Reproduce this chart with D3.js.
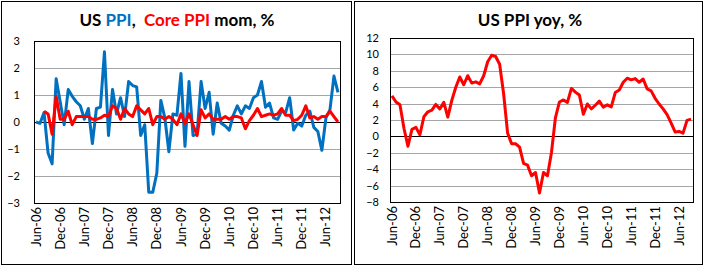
<!DOCTYPE html>
<html>
<head>
<meta charset="utf-8">
<script src="https://cdn.jsdelivr.net/npm/d3@7"></script>
<style>
  body { margin: 0; background: #fff; }
  text { font-family: Lato, "Open Sans", sans-serif; }
</style>
</head>
<body>
<svg id="chart" width="709" height="268"></svg>
<script>
// monthly categories, Jun-06 .. Sep-12
var months = d3.timeMonth.range(new Date(2006, 5, 1), new Date(2012, 9, 1));

// US PPI m/m, %
var ppiMom = [0.0, -0.05, 0.35, -1.15, -1.55, 1.6, 0.75, -0.1, 1.2, 0.95,
  0.75, 0.6, 0.1, 0.5, -0.8, 0.5, 0.55, 2.6, -0.5, 1.2,
  0.3, 0.9, 0.2, 1.5, 1.35, 1.3, -0.5, -0.1, -2.6, -2.6,
  -1.9, 0.8, 0.15, -1.1, 0.3, 0.25, 1.8, -0.9, 1.5, -0.5,
  -0.45, 1.5, 0.5, 1.1, -0.45, 0.7, -0.05, -0.15, -0.3, 0.25,
  0.6, 0.3, 0.6, 0.5, 0.9, 1.0, 1.5, 0.55, 0.7, 0.15,
  0.1, 0.4, 0.35, 0.9, -0.3, -0.05, -0.15, 0.25, 0.4, -0.2,
  -0.35, -1.05, 0.15, 0.45, 1.7, 1.1];

// US core PPI m/m, % (starts Aug-06)
var coreMom = [null, null, 0.4, 0.3, -0.45, 0.95, 0.1, 0.1, 0.4, -0.1,
  0.2, 0.2, 0.2, 0.2, 0.1, 0.1, 0.15, 0.25, 0.2, 0.6,
  0.5, 0.1, 0.5, 0.3, 0.2, 0.6, 0.45, 0.3, 0.5, -0.1,
  0.2, 0.2, 0.1, 0.2, 0.1, -0.1, 0.3, -0.05, 0.3, -0.1,
  -0.5, 0.45, 0.15, 0.3, 0.1, 0.1, 0.1, 0.2, 0.1, 0.2,
  0.2, 0.15, -0.25, 0.05, 0.25, 0.5, 0.2, 0.25, 0.3, 0.25,
  0.3, 0.5, 0.25, 0.25, 0.05, 0.1, 0.25, 0.6, 0.15, 0.2,
  0.1, 0.2, 0.2, 0.4, 0.2, 0.0];

// US PPI y/y, %
var ppiYoy = [4.95, 4.2, 3.85, 1.0, -1.2, 0.85, 1.1, 0.2, 2.4, 3.0,
  3.2, 3.9, 3.35, 4.15, 2.35, 4.4, 6.0, 7.25, 6.3, 7.4,
  6.5, 6.65, 6.4, 7.4, 9.1, 9.9, 9.75, 8.8, 5.2, 0.4,
  -0.9, -0.9, -1.3, -3.3, -3.5, -4.8, -4.4, -6.9, -4.4, -4.8,
  -1.95, 2.3, 4.2, 4.45, 4.15, 5.85, 5.4, 5.05, 2.7, 3.95,
  3.35, 3.8, 4.3, 3.55, 3.85, 3.6, 5.35, 5.65, 6.6, 7.1,
  6.9, 7.05, 6.6, 7.0, 5.8, 5.55, 4.65, 3.95, 3.35, 2.65,
  1.65, 0.55, 0.6, 0.4, 1.95, 2.1];

var momTicks = [-3, -2, -1, 0, 1, 2, 3];
var yoyTicks = [-8, -6, -4, -2, 0, 2, 4, 6, 8, 10, 12];

var blue = "#0070C0", red = "#FF0000";
var svg = d3.select("#chart");
var fmt = d3.timeFormat("%b-%y");
var labelMonths = months.filter(function(d, i) { return i % 6 === 0; });

function drawPanel(p) {
  var g = svg.append("g");

  g.append("rect")
    .attr("x", p.box[0] + 0.5).attr("y", p.box[1] + 0.5)
    .attr("width", p.box[2]).attr("height", p.box[3])
    .attr("fill", "#fff").attr("stroke", "#000");

  var x = d3.scaleBand().domain(months).range([p.left, p.right]);
  var y = d3.scaleLinear().domain(p.domain).range([p.bottom, p.top]);
  var cx = function(d) { return x(d) + x.bandwidth() / 2; };

  // gridlines
  g.selectAll(".grid")
    .data(p.ticks.filter(function(t) { return t !== 0 && t !== p.domain[0] && t !== p.domain[1]; }))
    .enter().append("line")
      .attr("x1", p.left).attr("x2", p.right)
      .attr("y1", function(d) { return Math.round(y(d)) + 0.5; })
      .attr("y2", function(d) { return Math.round(y(d)) + 0.5; })
      .attr("stroke", "#a6a6a6");

  g.append("line")
    .attr("x1", p.left).attr("x2", p.right)
    .attr("y1", Math.round(y(0)) + 0.5).attr("y2", Math.round(y(0)) + 0.5)
    .attr("stroke", "#000");

  // y axis labels
  var ya = g.append("g")
    .attr("transform", "translate(" + p.left + ",0)")
    .call(d3.axisLeft(y).tickValues(p.ticks).tickFormat(d3.format("d"))
      .tickSize(0).tickPadding(p.pad));
  ya.select(".domain").remove();
  ya.selectAll("text").style("font-size", "11px").attr("fill", "#000");

  // x axis labels, rotated
  var xa = g.append("g")
    .attr("transform", "translate(0," + p.bottom + ")")
    .call(d3.axisBottom(x).tickValues(labelMonths).tickFormat(fmt).tickSize(0));
  xa.select(".domain").remove();
  xa.selectAll("text")
    .attr("transform", "rotate(-90)")
    .attr("x", -4).attr("y", 0).attr("dy", "0.35em")
    .style("text-anchor", "end")
    .style("font-size", "13px")
    .attr("fill", "#000");

  // series
  p.series.forEach(function(s) {
    var line = d3.line()
      .defined(function(d, i) { return s.values[i] != null; })
      .x(function(d) { return cx(d); })
      .y(function(d, i) { return y(s.values[i]); });
    g.append("path")
      .datum(months)
      .attr("d", line)
      .attr("fill", "none")
      .attr("stroke", s.color)
      .attr("stroke-width", 3)
      .attr("stroke-linejoin", "round");
  });

  // plot border
  g.append("rect")
    .attr("x", p.left + 0.5).attr("y", p.top + 0.5)
    .attr("width", p.right - p.left).attr("height", p.bottom - p.top)
    .attr("fill", "none").attr("stroke", "#000");

  // title
  var t = g.append("text")
    .attr("x", p.titleX).attr("y", 26)
    .attr("text-anchor", "middle")
    .style("font-size", "17px").style("font-weight", "bold");
  p.title.forEach(function(s) {
    t.append("tspan").attr("fill", s.c).text(s.t);
  });
}

drawPanel({
  box: [1, 1, 350, 263],
  left: 34, right: 340, top: 41, bottom: 203,
  domain: [-3, 3], ticks: momTicks, pad: 14,
  series: [{ values: ppiMom, color: blue }, { values: coreMom, color: red }],
  titleX: 177,
  title: [{ t: "US ", c: "#000" }, { t: "PPI", c: blue }, { t: ",\u00a0 ", c: "#000" },
          { t: "Core PPI", c: red }, { t: " mom, %", c: "#000" }]
});

drawPanel({
  box: [354, 1, 348, 263],
  left: 390, right: 693, top: 38, bottom: 202,
  domain: [-8, 12], ticks: yoyTicks, pad: 11,
  series: [{ values: ppiYoy, color: red }],
  titleX: 530,
  title: [{ t: "US PPI yoy, %", c: "#000" }]
});
</script>
</body>
</html>
